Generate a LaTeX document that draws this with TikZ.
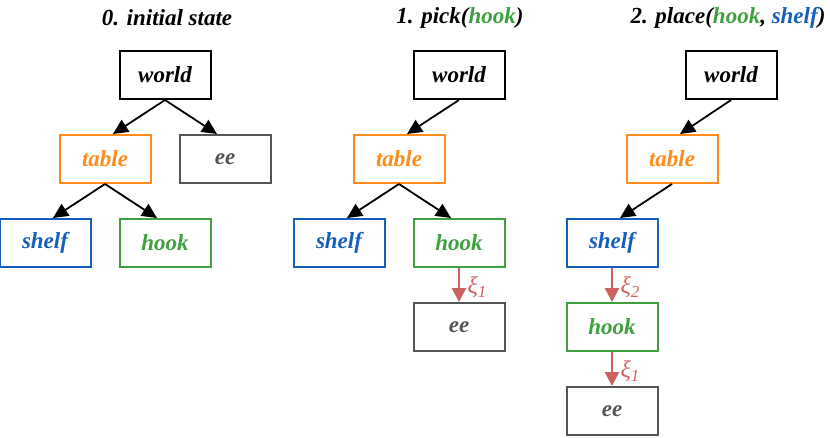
\documentclass[tikz,border=0pt]{standalone}
\usepackage{fontspec}
\setmainfont{Liberation Serif}
\usetikzlibrary{arrows.meta}
\definecolor{tableorange}{HTML}{FF8C1A}
\definecolor{shelfblue}{HTML}{1560BD}
\definecolor{hookgreen}{HTML}{3FA03F}
\definecolor{eegray}{HTML}{555555}
\definecolor{xired}{HTML}{CD6060}

\tikzset{
  frame/.style={draw, line width=2pt, minimum width=91pt, minimum height=48pt, inner sep=0pt,
    font=\fontsize{23}{26}\selectfont\bfseries\itshape},
  title/.style={font=\fontsize{23}{26}\selectfont\bfseries\itshape},
  link/.style={-{Triangle[length=15pt,width=14pt]}, line width=1.8pt},
  grasp/.style={-{Triangle[length=14pt,width=14pt]}, xired, line width=2.6pt},
  xilabel/.style={right, text=xired, font=\fontsize{24}{26}\selectfont\itshape}
}

\begin{document}
\begin{tikzpicture}[x=1pt, y=-1pt]
  \useasboundingbox (0,0) rectangle (830,437);

  % 0. initial state
  \node[title] (t0) at (167,18) {0. initial state};
  \node[frame] (w0) at (165,75) {world};
  \node[frame, tableorange] (tb0) at (105,159) {table};
  \node[frame, eegray] (e0) at (225,159) {ee};
  \node[frame, shelfblue] (s0) at (45,243) {shelf};
  \node[frame, hookgreen] (h0) at (165,243) {hook};
  \draw[link] (w0.south) -- ([xshift=8pt]tb0.north);
  \draw[link] (w0.south) -- ([xshift=-8pt]e0.north);
  \draw[link] (tb0.south) -- ([xshift=8pt]s0.north);
  \draw[link] (tb0.south) -- ([xshift=-8pt]h0.north);

  % 1. pick(hook)
  \node[title] (t1) at (460,18) {1. pick(\textcolor{hookgreen}{hook})};
  \node[frame] (w1) at (459,75) {world};
  \node[frame, tableorange] (tb1) at (399,159) {table};
  \node[frame, shelfblue] (s1) at (339,243) {shelf};
  \node[frame, hookgreen] (h1) at (459,243) {hook};
  \node[frame, eegray] (e1) at (459,327) {ee};
  \draw[link] (w1.south) -- ([xshift=8pt]tb1.north);
  \draw[link] (tb1.south) -- ([xshift=8pt]s1.north);
  \draw[link] (tb1.south) -- ([xshift=-8pt]h1.north);
  \draw[grasp] (h1.south) -- (e1.north) node[xilabel, midway, xshift=4pt, yshift=-2pt] {ξ\textsubscript{1}};

  % 2. place(hook, shelf)
  \node[title] (t2) at (728,18) {2. place(\textcolor{hookgreen}{hook}, \textcolor{shelfblue}{shelf})};
  \node[frame] (w2) at (731,75) {world};
  \node[frame, tableorange] (tb2) at (672,159) {table};
  \node[frame, shelfblue] (s2) at (612,243) {shelf};
  \node[frame, hookgreen] (h2) at (612,327) {hook};
  \node[frame, eegray] (e2) at (612,411) {ee};
  \draw[link] (w2.south) -- ([xshift=8pt]tb2.north);
  \draw[link] (tb2.south) -- ([xshift=8pt]s2.north);
  \draw[grasp] (s2.south) -- (h2.north) node[xilabel, midway, xshift=4pt, yshift=-2pt] {ξ\textsubscript{2}};
  \draw[grasp] (h2.south) -- (e2.north) node[xilabel, midway, xshift=4pt, yshift=-2pt] {ξ\textsubscript{1}};
\end{tikzpicture}
\end{document}
